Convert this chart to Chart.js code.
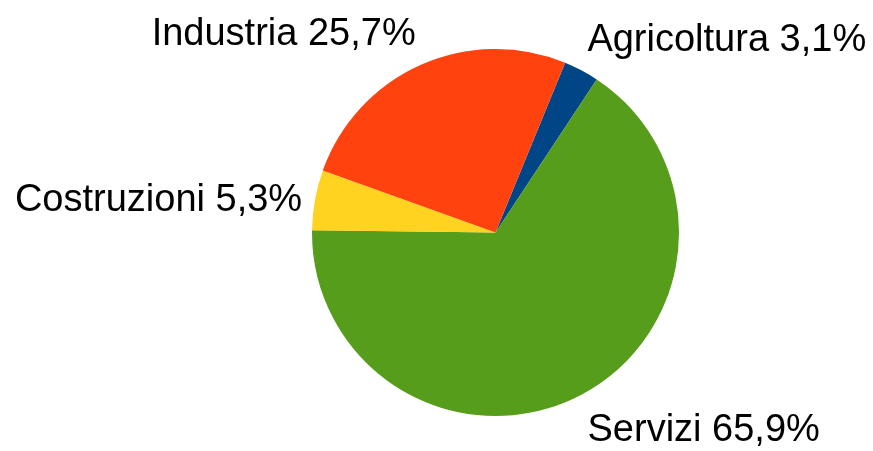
<!DOCTYPE html>
<html lang="it">
<head>
    <meta charset="UTF-8">
    <title>Occupati per settore</title>
    <script src="https://cdn.jsdelivr.net/npm/chart.js"></script>
    <style>
        html, body { margin: 0; padding: 0; background: #ffffff; }
        #wrap { width: 873px; height: 451px; }
    </style>
</head>
<body>
    <div id="wrap"><canvas id="pieChart" width="873" height="451"></canvas></div>

    <script>
        // settori e quote (%)
        const sectors = ["Agricoltura", "Servizi", "Costruzioni", "Industria"];
        const shares = [3.1, 65.9, 5.3, 25.7];
        const sliceColors = ["#004586", "#579d1c", "#ffd320", "#ff420e"];

        const FONT_SIZE = 38;

        // etichette esterne: nome + percentuale con virgola
        const outerLabels = {
            id: "outerLabels",
            afterDatasetsDraw(chart) {
                const ctx = chart.ctx;
                const meta = chart.getDatasetMeta(0);
                ctx.save();
                ctx.font = FONT_SIZE + "px 'Liberation Sans', Arial, sans-serif";
                ctx.fillStyle = "#000000";
                ctx.textBaseline = "alphabetic";
                const ascent = FONT_SIZE * 0.905, descent = FONT_SIZE * 0.212;
                meta.data.forEach((arc, i) => {
                    const a = (arc.startAngle + arc.endAngle) / 2;
                    const r = arc.outerRadius + 13;
                    const ax = arc.x + r * Math.cos(a);
                    const ay = arc.y + r * Math.sin(a);
                    const text = sectors[i] + " " + shares[i].toFixed(1).replace(".", ",") + "%";
                    const c = Math.cos(a), s = Math.sin(a);
                    ctx.textAlign = c > 0.1 ? "left" : (c < -0.1 ? "right" : "center");
                    let baseY;
                    if (s < -0.3) baseY = ay - descent;          // sopra: bordo inferiore all'ancora
                    else if (s > 0.3) baseY = ay + ascent;       // sotto: bordo superiore all'ancora
                    else baseY = ay + (ascent - descent) / 2;    // di lato: centrato
                    ctx.fillText(text, ax, baseY);
                });
                ctx.restore();
            }
        };

        new Chart(document.getElementById("pieChart"), {
            type: "pie",
            data: {
                labels: sectors,
                datasets: [{
                    data: shares,
                    backgroundColor: sliceColors,
                    borderWidth: 0
                }]
            },
            options: {
                responsive: false,
                animation: false,
                rotation: 22.3,
                layout: { padding: { top: 49, bottom: 35, left: 312, right: 194 } },
                plugins: {
                    legend: { display: false },
                    tooltip: { enabled: false }
                }
            },
            plugins: [outerLabels]
        });
    </script>
</body>
</html>
